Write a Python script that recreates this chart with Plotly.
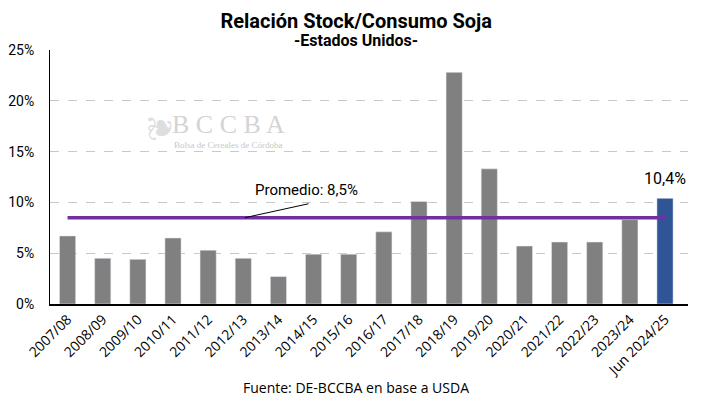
import plotly.graph_objects as go

categories = ["2007/08", "2008/09", "2009/10", "2010/11", "2011/12", "2012/13", "2013/14",
              "2014/15", "2015/16", "2016/17", "2017/18", "2018/19", "2019/20", "2020/21",
              "2021/22", "2022/23", "2023/24", "Jun 2024/25"]
ratio = [6.7, 4.5, 4.4, 6.5, 5.3, 4.5, 2.7, 4.9, 4.9, 7.1, 10.1, 22.8, 13.3, 5.7, 6.1, 6.1, 8.3, 10.4]
average = 8.5
y_ticks = [0, 5, 10, 15, 20, 25]
y_tick_labels = ["0%", "5%", "10%", "15%", "20%", "25%"]

bar_colors = ["#808080"] * (len(categories) - 1) + ["#2F5597"]

fig = go.Figure()
fig.add_trace(go.Bar(x=categories, y=ratio, marker_color=bar_colors, width=0.46,
                     hoverinfo="x+y"))
fig.add_trace(go.Scatter(x=[categories[0], categories[-1]], y=[average, average], mode="lines",
                         line=dict(color="#7030A0", width=3.5)))

fig.add_annotation(x=categories[-1], y=ratio[-1], text="10,4%", showarrow=False,
                   yshift=20, font=dict(size=16, color="#000", family="Roboto, Arial"))
fig.add_annotation(x=5.05, y=average, ax=6.9, ay=9.9, axref="x", ayref="y", xref="x", yref="y",
                   text="", showarrow=True, arrowhead=0, arrowwidth=1, arrowcolor="#000")
fig.add_annotation(x=6.8, y=11.2, text="Promedio: 8,5%", showarrow=False,
                   font=dict(size=15, color="#000", family="Roboto, Arial"), xanchor="center")

# watermark
fig.add_annotation(xref="paper", yref="paper", x=0.279, y=0.705, text="B C C B A", showarrow=False,
                   font=dict(family="Liberation Serif", size=26, color="#d4d4d4"), xanchor="center",
                   yanchor="middle")
fig.add_annotation(xref="paper", yref="paper", x=0.279, y=0.626, text="Bolsa de Cereales de Córdoba",
                   showarrow=False, font=dict(family="Liberation Serif", size=9, color="#c8c8c8"),
                   xanchor="center", yanchor="middle")
fig.add_annotation(xref="paper", yref="paper", x=0.172, y=0.69, text="❦", showarrow=False,
                   font=dict(size=34, color="#dedede"), xanchor="center", yanchor="middle",
                   textangle=-90)

fig.update_layout(
    width=705, height=393,
    margin=dict(l=42, r=25, t=42, b=97),
    paper_bgcolor="white", plot_bgcolor="white",
    showlegend=False,
    font=dict(family="Roboto, Arial", color="#000"),
    title=dict(text="<b>Relación Stock/Consumo Soja</b>", x=0.48, xref="paper", xanchor="center",
               y=0.968, yanchor="middle", font=dict(size=20, family="Roboto, Arial")),
    bargap=0.5,
)
fig.add_annotation(xref="paper", yref="paper", x=0.48, y=1.039, yanchor="middle",
                   text="<b>-Estados Unidos-</b>", showarrow=False,
                   font=dict(size=16, family="Roboto, Arial"))
fig.add_annotation(xref="paper", yref="paper", x=0.48, y=-0.33, yanchor="middle",
                   text="Fuente: DE-BCCBA en base a USDA", showarrow=False,
                   font=dict(size=14, family="Open Sans, Arial"))

fig.update_xaxes(type="category", tickangle=-45, showline=True, linecolor="#000", linewidth=1.5,
                 ticks="", tickfont=dict(size=14, family="Open Sans, Arial"), showgrid=False,
                 automargin=False)
fig.update_yaxes(range=[0, 25], tickvals=y_ticks, ticktext=y_tick_labels, showline=True,
                 linecolor="#000", linewidth=1, showgrid=True, gridcolor="#c8c8c8",
                 griddash="dash", gridwidth=1, zeroline=False, ticklabelstandoff=12,
                 tickfont=dict(size=14, family="Roboto, Arial"), ticks="", automargin=False)

fig.write_html("out.html")
